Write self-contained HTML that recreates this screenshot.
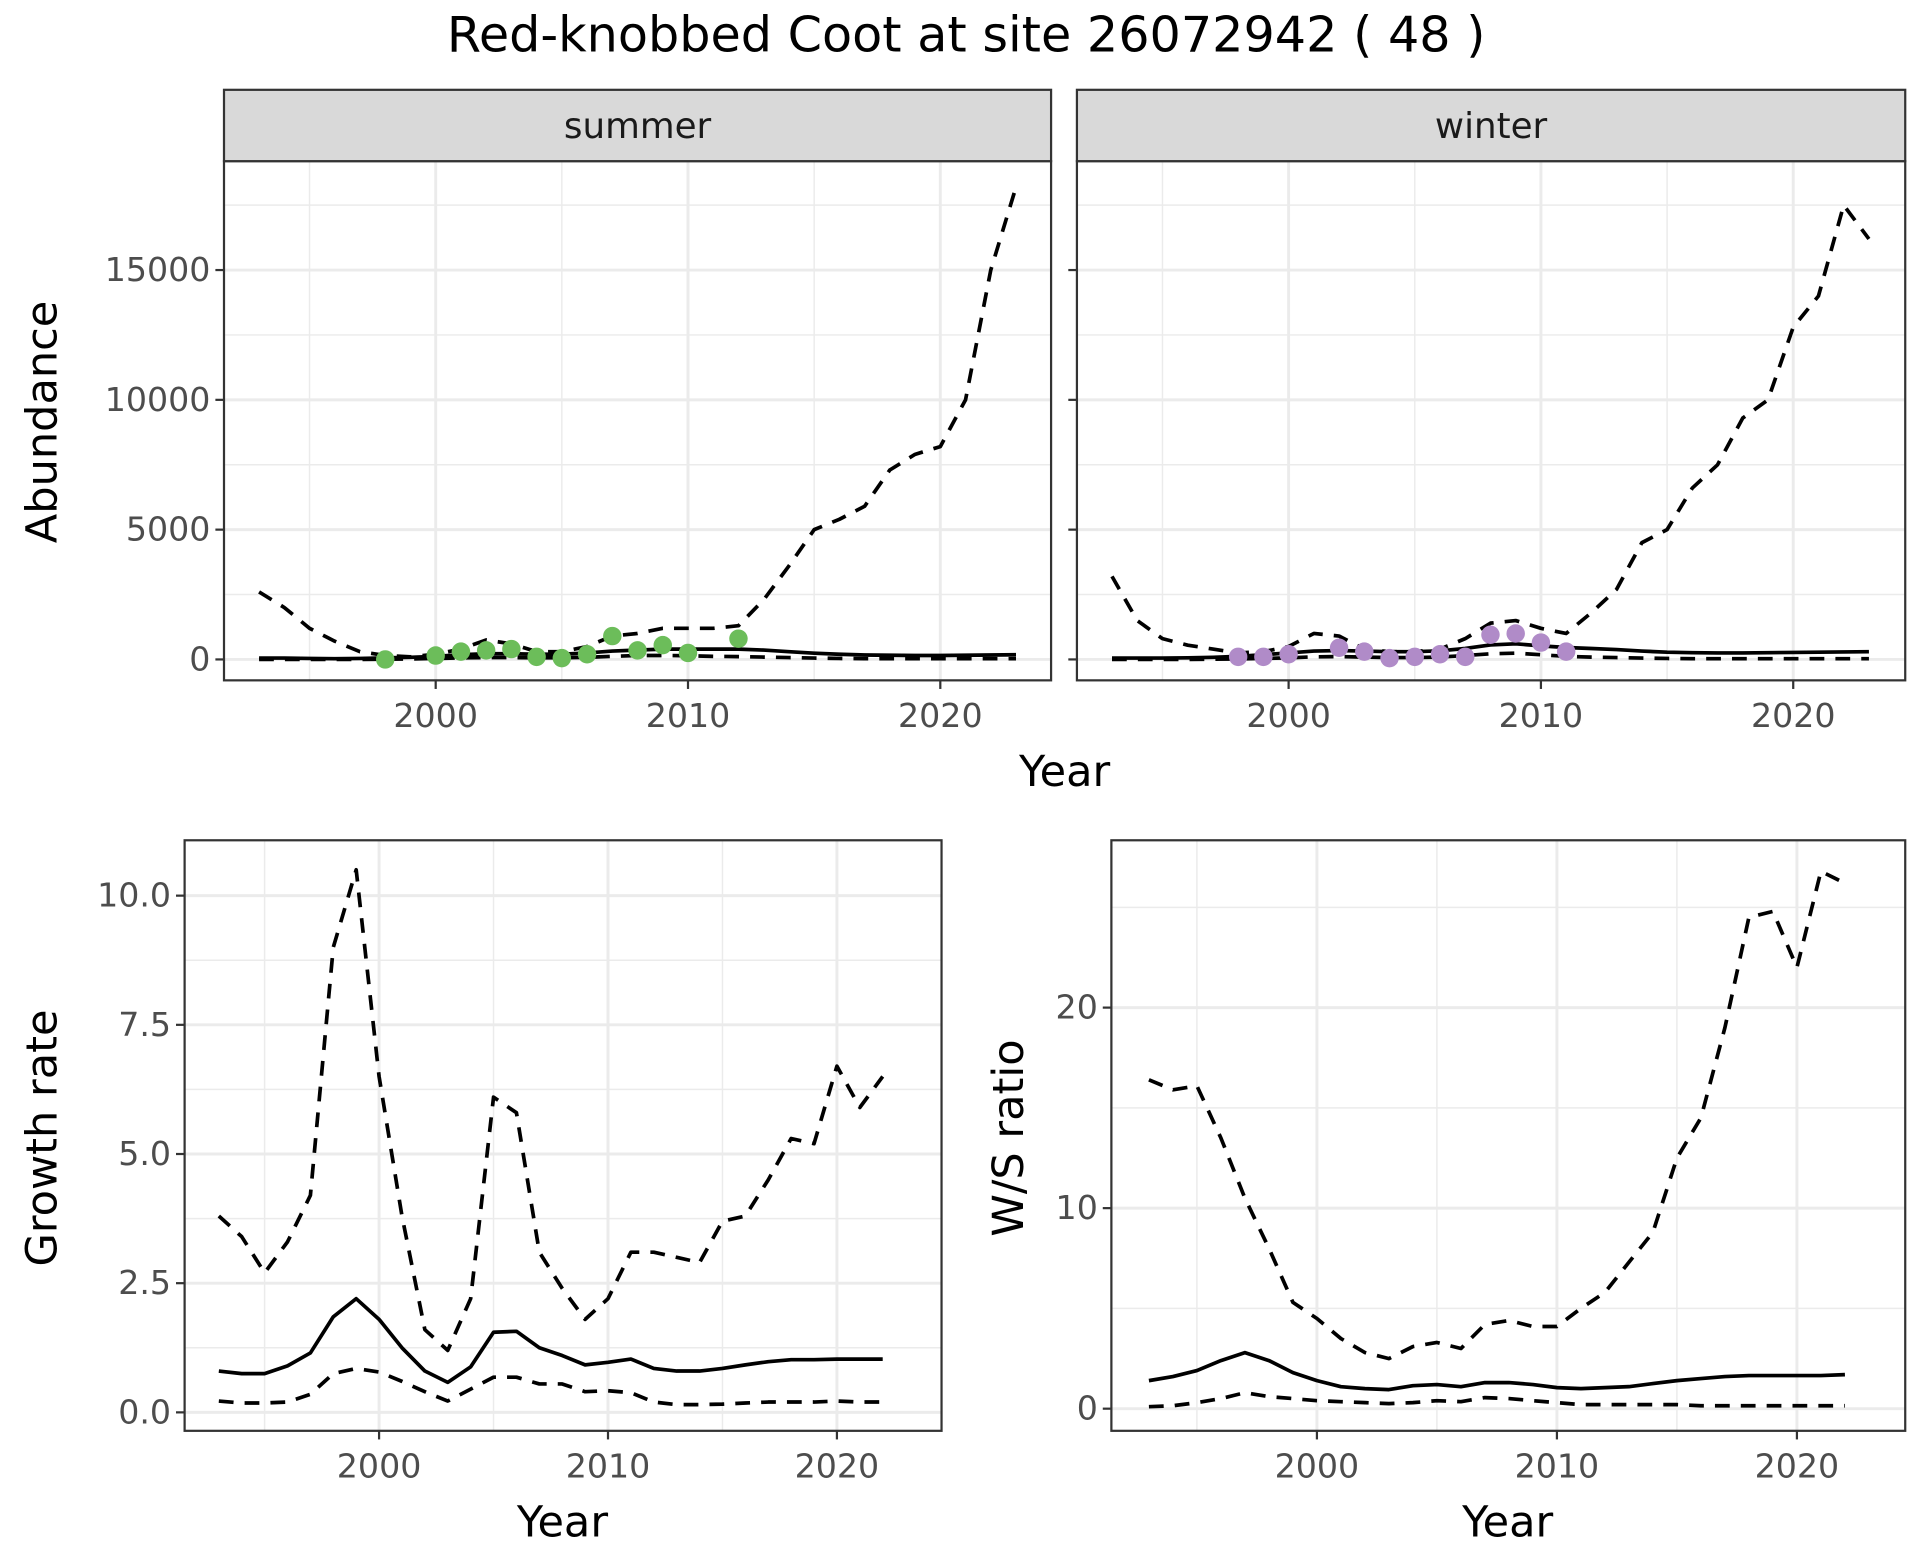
<!DOCTYPE html>
<html><head><meta charset="utf-8"><style>
html,body{margin:0;padding:0;background:#fff;}
svg{display:block;font-family:"DejaVu Sans","Liberation Sans",sans-serif;}
</style></head><body>
<svg id="chart" width="1920" height="1560" viewBox="0 0 1560 1268" preserveAspectRatio="none" xmlns="http://www.w3.org/2000/svg">
<text x="785" y="42" font-size="40" text-anchor="middle" fill="#000">Red-knobbed Coot at site 26072942 ( 48 )</text>
</svg>
<script>
const years = [1993,1994,1995,1996,1997,1998,1999,2000,2001,2002,2003,2004,2005,2006,2007,2008,2009,2010,2011,2012,2013,2014,2015,2016,2017,2018,2019,2020,2021,2022,2023];
const sumUpper = [2600,2000,1200,700,300,150,100,200,400,750,600,300,300,500,900,1000,1200,1200,1200,1300,2300,3600,5000,5400,5900,7300,7900,8200,10000,15000,18200];
const sumMean = [50,50,40,30,40,60,80,120,180,220,220,200,200,250,320,360,400,400,400,400,360,300,240,200,170,160,150,150,160,170,180];
const sumLower = [0,0,0,0,0,10,20,40,60,70,70,60,60,80,120,150,150,140,120,110,90,70,50,40,30,30,30,30,30,30,30];
const sumPtYears = [1998,2000,2001,2002,2003,2004,2005,2006,2007,2008,2009,2010,2012];
const sumPtVals = [0,150,300,350,400,100,50,200,900,350,550,250,800];
const winUpper = [3200,1500,800,550,400,250,300,500,1000,900,400,300,300,400,800,1400,1500,1200,1000,1800,2700,4500,5000,6600,7500,9300,10000,12800,14000,17500,16200];
const winMean = [50,50,50,60,80,120,180,250,320,340,320,300,300,330,420,560,600,520,460,420,380,320,280,260,250,250,260,270,280,290,300];
const winLower = [0,0,0,0,10,20,40,60,100,110,90,70,70,90,150,220,240,180,120,90,70,50,40,30,30,30,30,30,30,30,30];
const winPtYears = [1998,1999,2000,2002,2003,2004,2005,2006,2007,2008,2009,2010,2011];
const winPtVals = [100,100,200,450,300,50,100,200,100,950,1000,650,300];
const gYears = [1993,1994,1995,1996,1997,1998,1999,2000,2001,2002,2003,2004,2005,2006,2007,2008,2009,2010,2011,2012,2013,2014,2015,2016,2017,2018,2019,2020,2021,2022];
const gUpper = [3.8,3.4,2.7,3.3,4.2,9.0,10.5,6.5,3.8,1.6,1.2,2.2,6.1,5.8,3.1,2.4,1.8,2.2,3.1,3.1,3.0,2.9,3.7,3.8,4.5,5.3,5.2,6.7,5.9,6.5];
const gMean = [0.8,0.75,0.75,0.9,1.15,1.85,2.2,1.8,1.25,0.8,0.58,0.88,1.55,1.57,1.25,1.1,0.92,0.97,1.03,0.85,0.8,0.8,0.85,0.92,0.98,1.02,1.02,1.03,1.03,1.03];
const gLower = [0.22,0.18,0.18,0.2,0.35,0.75,0.85,0.78,0.6,0.4,0.22,0.45,0.68,0.68,0.55,0.55,0.4,0.42,0.38,0.2,0.15,0.15,0.16,0.18,0.2,0.2,0.2,0.22,0.2,0.2];
const rUpper = [16.4,15.9,16.1,13.5,10.5,8.0,5.3,4.5,3.5,2.8,2.5,3.1,3.3,3.0,4.2,4.4,4.1,4.1,5.0,5.8,7.3,8.8,12.5,14.5,19,24.5,24.8,22,26.8,26.2];
const rMean = [1.4,1.6,1.9,2.4,2.8,2.4,1.8,1.4,1.1,1.0,0.95,1.15,1.2,1.1,1.3,1.3,1.2,1.05,1.0,1.05,1.1,1.25,1.4,1.5,1.6,1.65,1.65,1.65,1.65,1.7];
const rLower = [0.1,0.15,0.3,0.5,0.8,0.6,0.5,0.4,0.35,0.3,0.25,0.3,0.4,0.35,0.55,0.5,0.4,0.3,0.2,0.2,0.2,0.2,0.2,0.15,0.15,0.15,0.15,0.15,0.15,0.15];
const xTicks = [2000,2010,2020];
const xMinor = [1995,2005,2015];
const abTicks = [0,5000,10000,15000];
const abMinor = [2500,7500,12500,17500];
const gTicks = [0,2.5,5,7.5,10];
const gTickLabels = ["0.0","2.5","5.0","7.5","10.0"];
const gMinor = [1.25,3.75,6.25,8.75];
const rTicks = [0,10,20];
const rMinor = [5,15,25];

const svg = document.getElementById('chart');
const NS = 'http://www.w3.org/2000/svg';
function mk(tag, attrs, parent){const e=document.createElementNS(NS,tag);for(const k in attrs)e.setAttribute(k,attrs[k]);(parent||svg).appendChild(e);return e;}

function panel(p){
  const g = mk('g',{});
  
  
  const xs = v => p.x0 + (v - p.xv0) * p.xk;
  const ys = v => p.y0 - (v - p.yv0) * p.yk;
  p.yMinor.forEach(v=>{const l=mk('line',{x1:p.L,x2:p.R,y1:ys(v),y2:ys(v),stroke:'#ebebeb','stroke-width':1.2},g);});
  xMinor.forEach(v=>{const l=mk('line',{x1:xs(v),x2:xs(v),y1:p.T,y2:p.B,stroke:'#ebebeb','stroke-width':1.2},g);});
  p.yTicks.forEach((v,i)=>{
    const l=mk('line',{x1:p.L,x2:p.R,y1:ys(v),y2:ys(v),stroke:'#ebebeb','stroke-width':2.4},g);
    
    mk('line',{x1:p.L-7,x2:p.L,y1:ys(v),y2:ys(v),stroke:'#333','stroke-width':1.8},g);
    if(p.showY){const t=mk('text',{x:p.L-11,y:ys(v)+9,'font-size':27,'text-anchor':'end',fill:'#4d4d4d'},g);t.textContent=p.yLabels[i];
      }
  });
  xTicks.forEach(v=>{
    const l=mk('line',{x1:xs(v),x2:xs(v),y1:p.T,y2:p.B,stroke:'#ebebeb','stroke-width':2.4},g);
    
    mk('line',{x1:xs(v),x2:xs(v),y1:p.B,y2:p.B+7,stroke:'#333','stroke-width':1.8},g);
    const t=mk('text',{x:xs(v),y:p.B+38,'font-size':27,'text-anchor':'middle',fill:'#4d4d4d'},g);t.textContent=v;
    
  });
  function line(xv,yv,dash,name){
    const d=xv.map((x,i)=>(i?'L':'M')+xs(x).toFixed(1)+','+ys(yv[i]).toFixed(1)).join(' ');
    const pa=mk('path',{d:d,fill:'none',stroke:'#000','stroke-width':3,'stroke-dasharray':dash?'12 9':'none','stroke-linejoin':'round'},g);
    
  }
  line(p.xv,p.lower,true,'lower-bound-line');
  line(p.xv,p.mean,false,'mean-line');
  line(p.xv,p.upper,true,'upper-bound-line');
  if(p.ptX){p.ptX.forEach((x,i)=>{const c=mk('circle',{cx:xs(x),cy:ys(p.ptY[i]),r:7.5,fill:p.ptColor},g);
    });}
  const b=mk('rect',{x:p.L,y:p.T,width:p.R-p.L,height:p.B-p.T,fill:'none',stroke:'#333','stroke-width':1.8},g);
  
  if(p.strip){const s=mk('rect',{x:p.L,y:p.T-58,width:p.R-p.L,height:58,fill:'#d9d9d9',stroke:'#333','stroke-width':1.8},g);
    
    const t=mk('text',{x:(p.L+p.R)/2,y:p.T-19,'font-size':29,'text-anchor':'middle',fill:'#1a1a1a'},g);t.textContent=p.strip;
    }
}
panel({name:'summer-panel',L:182,R:854,T:131,B:553,x0:354,xv0:2000,xk:20.5,y0:536,yv0:0,yk:105.5/5000,
  yTicks:abTicks,yLabels:abTicks.map(String),yMinor:abMinor,showY:true,xv:years,upper:sumUpper,mean:sumMean,lower:sumLower,
  ptX:sumPtYears,ptY:sumPtVals,ptColor:'#6cbd5a',strip:'summer'});
panel({name:'winter-panel',L:875,R:1548,T:131,B:553,x0:1047,xv0:2000,xk:20.5,y0:536,yv0:0,yk:105.5/5000,
  yTicks:abTicks,yLabels:abTicks.map(String),yMinor:abMinor,showY:false,xv:years,upper:winUpper,mean:winMean,lower:winLower,
  ptX:winPtYears,ptY:winPtVals,ptColor:'#b08bc8',strip:'winter'});
panel({name:'growth-rate-panel',L:150,R:765,T:683,B:1163,x0:308,xv0:2000,xk:18.6,y0:1148,yv0:0,yk:42,
  yTicks:gTicks,yLabels:gTickLabels,yMinor:gMinor,showY:true,xv:gYears,upper:gUpper,mean:gMean,lower:gLower});
panel({name:'ws-ratio-panel',L:903,R:1548,T:683,B:1163,x0:1070,xv0:2000,xk:19.5,y0:1145,yv0:0,yk:16.3,
  yTicks:rTicks,yLabels:rTicks.map(String),yMinor:rMinor,showY:true,xv:gYears,upper:rUpper,mean:rMean,lower:rLower});

function label(txt,x,y,rot,name){const t=mk('text',{x:x,y:y,'font-size':35,'text-anchor':'middle',fill:'#000',transform:rot?`rotate(-90 ${x} ${y})`:''});
  t.textContent=txt;}
label('Year',865,639,false,'top-x-axis-title');
label('Abundance',46,343,true,'abundance-y-axis-title');
label('Year',457,1249,false,'growth-x-axis-title');
label('Growth rate',46,925,true,'growth-y-axis-title');
label('Year',1225,1249,false,'ratio-x-axis-title');
label('W/S ratio',831,925,true,'ratio-y-axis-title');
</script>
</body></html>
